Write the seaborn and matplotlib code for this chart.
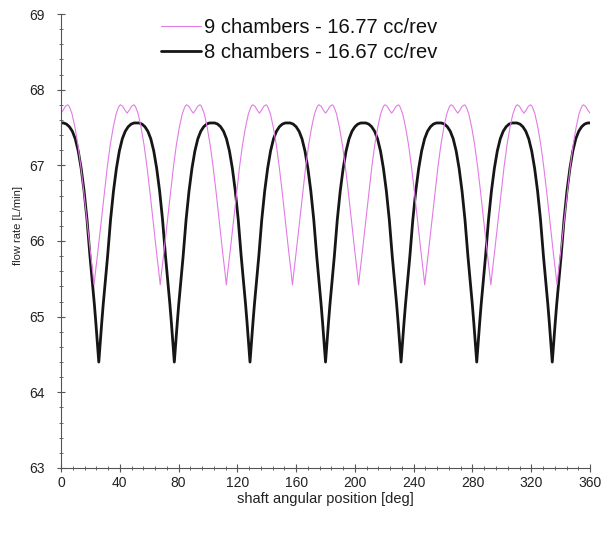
import numpy as np
import pandas as pd
import seaborn as sns
import matplotlib.pyplot as plt
from matplotlib.lines import Line2D
from matplotlib.ticker import MultipleLocator

sns.set_theme(style="ticks")
plt.rcParams["font.family"] = ["Liberation Sans", "DejaVu Sans"]

# --- data -----------------------------------------------------------------
# 8 chambers: angular positions of the flow minima and one half-arc profile
# (offset from a minimum [deg] -> flow [L/min]), mirrored about each minimum
cusp_pos_8 = [25.7, 77.1, 128.6, 180.0, 231.4, 282.9, 334.3]
arc_offset_8 = [0, 0.5, 1, 2, 3, 4.5, 6, 8, 10, 12, 14, 16, 18, 20, 22, 24, 25.7]
arc_flow_8 = [64.40, 64.53, 64.66, 64.92, 65.16, 65.48, 65.80, 66.28, 66.66,
              66.96, 67.19, 67.35, 67.45, 67.51, 67.545, 67.56, 67.56]

# 9 chambers: minima positions and half-arc profile (double-humped crest)
cusp_pos_9 = [22.5, 67.5, 112.5, 157.5, 202.5, 247.5, 292.5, 337.5]
arc_offset_9 = [0, 1, 2.5, 4.5, 7, 9, 11, 13, 15, 16.5, 17.3, 18, 18.8, 19.5, 21, 22.5]
arc_flow_9 = [65.42, 65.60, 65.85, 66.20, 66.65, 66.98, 67.27, 67.50, 67.68,
              67.76, 67.79, 67.80, 67.79, 67.78, 67.73, 67.69]

series_labels = ["9 chambers - 16.77 cc/rev", "8 chambers - 16.67 cc/rev"]
angle_ticks = [0, 40, 80, 120, 160, 200, 240, 280, 320, 360]
flow_ticks = [63, 64, 65, 66, 67, 68, 69]


def build_curve(cusps, offsets, flows, label):
    xs, ys = [], []
    off = np.asarray(offsets)
    fl = np.asarray(flows)
    for m in cusps:
        xs.extend(m - off[::-1]); ys.extend(fl[::-1])
        xs.extend(m + off[1:]); ys.extend(fl[1:])
    return pd.DataFrame({"angle": xs, "flow": ys, "series": label})


df9 = build_curve(cusp_pos_9, arc_offset_9, arc_flow_9, series_labels[0])
df8 = build_curve(cusp_pos_8, arc_offset_8, arc_flow_8, series_labels[1])

# --- figure ---------------------------------------------------------------
fig = plt.figure(figsize=(6.03, 5.33), dpi=100)
ax = fig.add_axes([0.1012, 0.122, 0.8773, 0.8517])

c9 = "#e27be6"
c8 = "#161616"
sns.lineplot(data=df8, x="angle", y="flow", sort=False, estimator=None,
             color=c8, linewidth=2.0, ax=ax, legend=False)
sns.lineplot(data=df9, x="angle", y="flow", sort=False, estimator=None,
             color=c9, linewidth=0.8, ax=ax, legend=False)

ax.set_xlim(0, 360)
ax.set_ylim(63, 69)
ax.set_xticks(angle_ticks)
ax.set_yticks(flow_ticks)
ax.xaxis.set_minor_locator(MultipleLocator(8))
ax.yaxis.set_minor_locator(MultipleLocator(0.2))

spine_col = "#555555"
for side in ("top", "right"):
    ax.spines[side].set_visible(False)
for side in ("left", "bottom"):
    ax.spines[side].set_color(spine_col)
    ax.spines[side].set_linewidth(0.8)
ax.tick_params(which="major", direction="inout", length=6, width=0.8,
               color=spine_col, labelsize=10, labelcolor="#222222")
ax.tick_params(which="minor", direction="inout", length=3, width=0.6,
               color=spine_col)
ax.tick_params(axis="x", which="major", pad=3)
ax.tick_params(axis="y", which="major", pad=9)

ax.set_xlabel("shaft angular position [deg]", fontsize=10.5, color="#222222", labelpad=1)
ax.set_ylabel("flow rate [L/min]", fontsize=8, color="#222222")
ax.yaxis.set_label_coords(-0.072, 0.535)

handles = [Line2D([], [], color=c9, linewidth=0.8),
           Line2D([], [], color=c8, linewidth=2.0)]
ax.legend(handles, series_labels, loc="center left",
          bbox_to_anchor=(0.25, 0.925), bbox_transform=fig.transFigure,
          frameon=False, fontsize=14.5, handlelength=2.0, handletextpad=0.15,
          labelspacing=0.3, borderpad=0, labelcolor="#111111")

fig.savefig("out.png", dpi=100)
